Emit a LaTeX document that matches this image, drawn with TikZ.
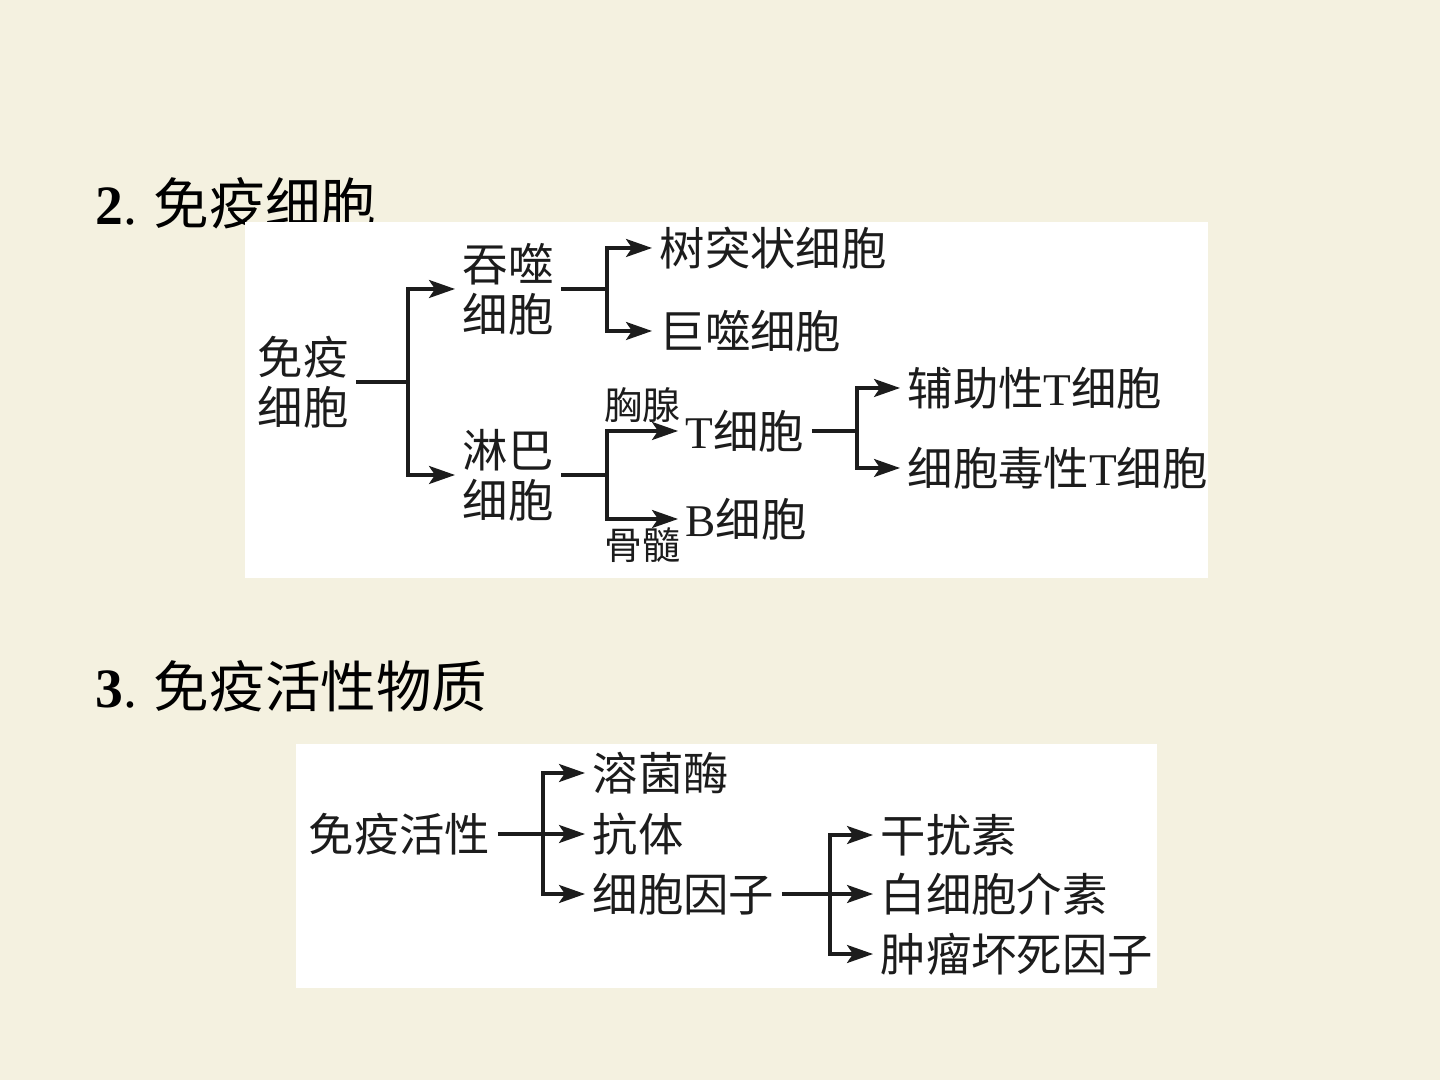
\documentclass[tikz,border=0pt]{standalone}
\usepackage{fontspec}
\setmainfont{Liberation Serif}
\newfontfamily\cjk{Noto Sans CJK SC}
\usepackage{xcolor}
\usetikzlibrary{positioning, arrows.meta}
\definecolor{paper}{HTML}{F4F1E0}
\definecolor{ink}{HTML}{1C1C1C}
\newcommand{\lt}[1]{{\rmfamily #1}}
\tikzset{
  title/.style  = {anchor=west, inner sep=0pt, text=black,
                   font=\cjk\fontsize{15.8}{18}\selectfont},
  panel/.style  = {fill=white, draw=none},
  cell/.style   = {inner xsep=0.07cm, inner ysep=0pt, align=center, text=ink,
                   font=\cjk\fontsize{12.9}{14.2}\selectfont},
  tag/.style    = {inner sep=0pt, text=ink, font=\cjk\fontsize{10.8}{12}\selectfont},
  line/.style   = {draw=ink, line width=0.032cm},
  arr/.style    = {line, -{Stealth[length=2.6mm, width=1.8mm, inset=0.6mm]}},
}
\begin{document}
\begin{tikzpicture}[x=0.01cm, y=-0.01cm]

  \fill[paper] (0,0) rectangle (1440,1080);
  \useasboundingbox (0,0) rectangle (1440,1080);

  % headings
  \node[title] (h2) at (95,203) {\lt{\textbf{2}.} 免疫细胞};
  \node[title] (h3) at (95,686) {\lt{\textbf{3}.} 免疫活性物质};

  \fill[panel] (245,222) rectangle (1208,578);
  \fill[panel] (296,744) rectangle (1157,988);

  % immune cells
  \node[cell] (immune) at (303,382) {免疫\\细胞};
  \node[cell, anchor=west] (phago) at (455,289) {吞噬\\细胞};
  \node[cell, anchor=west] (lymph) at (455,475) {淋巴\\细胞};
  \node[cell, anchor=west] (dendr) at (652,248) {树突状细胞};
  \node[cell, anchor=west] (macro) at (652,331) {巨噬细胞};
  \node[cell, anchor=west] (tcell) at (678,431) {\lt{T}细胞};
  \node[cell, anchor=west] (bcell) at (678,519) {\lt{B}细胞};
  \node[cell, anchor=west] (helper) at (900,388) {辅助性\lt{T}细胞};
  \node[cell, anchor=west] (cyto) at (900,468) {细胞毒性\lt{T}细胞};

  \coordinate (j1) at (408,382);
  \coordinate (j2) at (607,289);
  \coordinate (j3) at (607,475);
  \coordinate (j4) at (857,431);

  \draw[line] (immune.east) -- (j1);
  \draw[arr] (j1) |- (phago.west);
  \draw[arr] (j1) |- (lymph.west);
  \draw[line] (phago.east) -- (j2);
  \draw[arr] (j2) |- (dendr.west);
  \draw[arr] (j2) |- (macro.west);
  \draw[line] (lymph.east) -- (j3);
  \draw[arr] (j3) |- node[tag, pos=0.75, above=0.07cm] (thymus) {胸腺} (tcell.west);
  \draw[arr] (j3) |- node[tag, pos=0.75, below=0.07cm] (marrow) {骨髓} (bcell.west);
  \draw[line] (tcell.east) -- (j4);
  \draw[arr] (j4) |- (helper.west);
  \draw[arr] (j4) |- (cyto.west);

  % immune active substances
  \node[cell, anchor=west] (active) at (301,834) {免疫活性};
  \node[cell, anchor=west] (lyso) at (585,773) {溶菌酶};
  \node[cell, anchor=west] (antib) at (585,834) {抗体};
  \node[cell, anchor=west] (cytok) at (585,894) {细胞因子};
  \node[cell, anchor=west] (ifn) at (873,835) {干扰素};
  \node[cell, anchor=west] (il) at (873,894) {白细胞介素};
  \node[cell, anchor=west] (tnf) at (873,954) {肿瘤坏死因子};

  \coordinate (j5) at (543,834);
  \coordinate (j6) at (830,894);

  \draw[arr] (active) -- (antib);
  \draw[arr] (j5) |- (lyso.west);
  \draw[arr] (j5) |- (cytok.west);
  \draw[arr] (cytok) -- (il);
  \draw[arr] (j6) |- (ifn.west);
  \draw[arr] (j6) |- (tnf.west);

\end{tikzpicture}
\end{document}
